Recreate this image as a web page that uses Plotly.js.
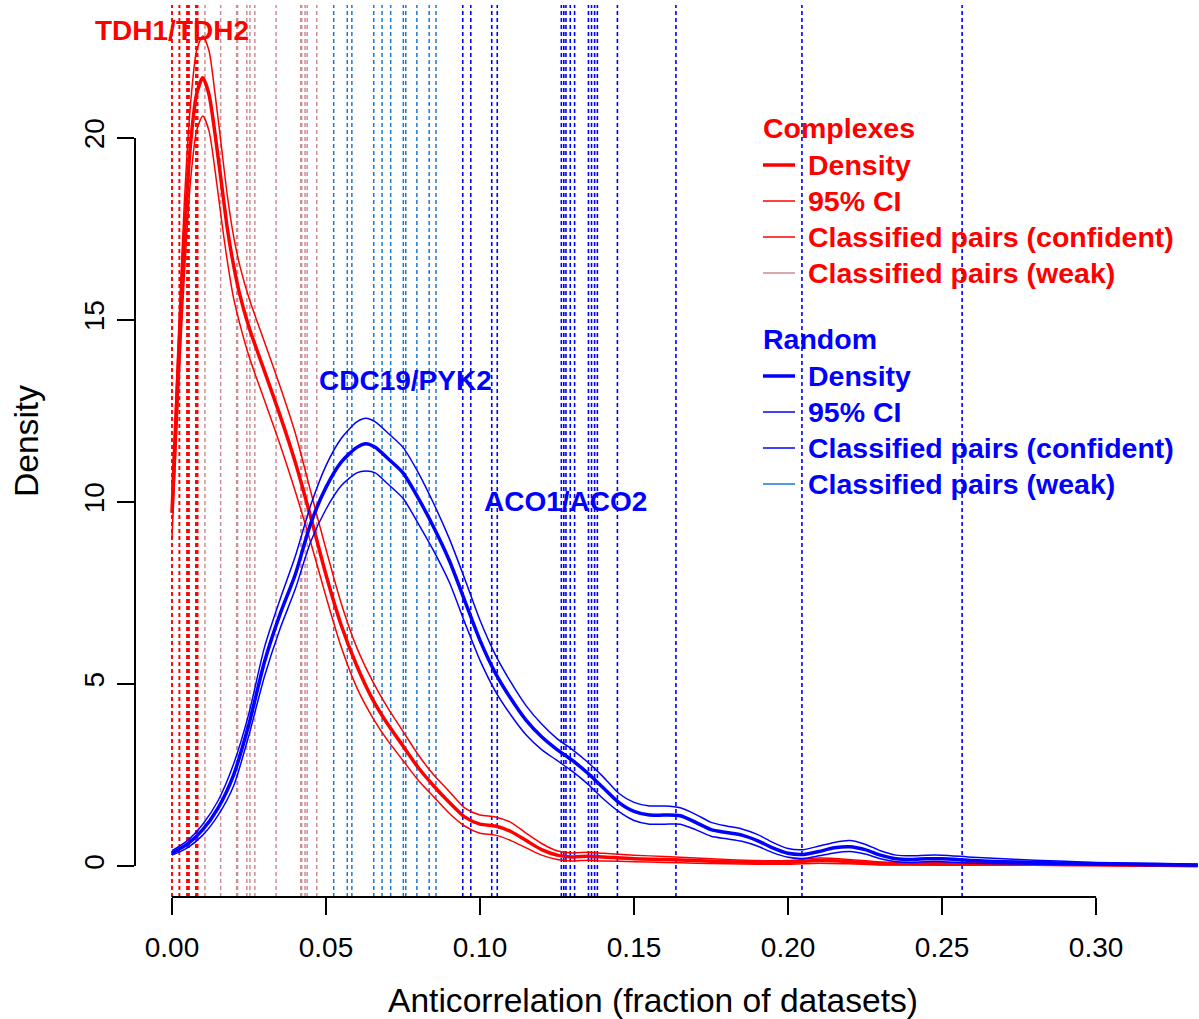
<!DOCTYPE html>
<html>
<head>
<meta charset="utf-8">
<script src="https://cdn.plot.ly/plotly-3.0.1.min.js"></script>
<style>html,body{margin:0;padding:0;background:#fff;}#chart{width:1199px;height:1019px;}</style>
</head>
<body>
<div id="chart"></div>
<script>
// ---------- data ----------
const xGrid = [0.000,0.002,0.004,0.006,0.008,0.010,0.012,0.014,0.016,0.018,0.020,0.022,0.025,0.030,0.035,0.040,0.045,0.050,0.055,0.060,0.065,0.070,0.075,0.080,0.085,0.090,0.095,0.100,0.105,0.110,0.115,0.120,0.125,0.130,0.135,0.140,0.150,0.160,0.170,0.180,0.190,0.200,0.210,0.220,0.230,0.240,0.260,0.280,0.300,0.320,0.333];
const complexDensity = [9.7,13.6,17.2,19.8,21.2,21.65,21.2,20.1,18.8,17.5,16.5,15.7,14.8,13.6,12.4,11.1,9.6,8.0,6.6,5.5,4.6,3.9,3.3,2.7,2.2,1.75,1.35,1.15,1.1,0.95,0.7,0.45,0.3,0.25,0.27,0.25,0.2,0.18,0.15,0.12,0.1,0.1,0.15,0.12,0.07,0.06,0.05,0.05,0.04,0.02,0.01];
const complexUpper   = [10.3,14.4,18.2,20.9,22.4,22.8,22.4,21.2,19.8,18.4,17.3,16.5,15.6,14.4,13.2,11.9,10.3,8.7,7.2,6.0,5.1,4.35,3.7,3.05,2.5,2.05,1.6,1.4,1.35,1.2,0.9,0.62,0.42,0.36,0.38,0.35,0.3,0.26,0.22,0.18,0.15,0.15,0.22,0.18,0.11,0.1,0.09,0.08,0.07,0.04,0.02];
const complexLower   = [9.0,12.8,16.2,18.8,20.2,20.6,20.2,19.1,17.8,16.6,15.6,14.9,14.0,12.8,11.6,10.3,8.9,7.4,6.0,4.9,4.1,3.45,2.9,2.35,1.9,1.45,1.1,0.9,0.85,0.7,0.5,0.3,0.18,0.14,0.16,0.14,0.12,0.1,0.08,0.06,0.05,0.05,0.08,0.06,0.03,0.03,0.02,0.02,0.01,0.0,0.0];

const xGridR = [0.000,0.005,0.010,0.015,0.020,0.025,0.030,0.035,0.040,0.045,0.050,0.055,0.060,0.063,0.066,0.070,0.075,0.080,0.085,0.090,0.095,0.100,0.105,0.110,0.115,0.120,0.125,0.130,0.135,0.140,0.145,0.150,0.155,0.160,0.165,0.170,0.175,0.180,0.185,0.190,0.195,0.200,0.205,0.210,0.215,0.220,0.225,0.230,0.235,0.240,0.245,0.250,0.260,0.270,0.280,0.290,0.300,0.320,0.333];
const randomDensity = [0.35,0.6,1.0,1.6,2.5,3.9,5.6,6.9,8.0,9.4,10.4,11.1,11.5,11.6,11.5,11.2,10.8,10.1,9.3,8.4,7.3,6.2,5.3,4.6,4.0,3.55,3.2,2.9,2.55,2.15,1.75,1.5,1.4,1.4,1.38,1.2,1.0,0.92,0.85,0.7,0.5,0.35,0.32,0.4,0.5,0.53,0.45,0.3,0.2,0.18,0.2,0.2,0.15,0.12,0.1,0.08,0.06,0.04,0.03];
const randomUpper   = [0.42,0.7,1.15,1.8,2.8,4.2,6.0,7.3,8.5,9.9,11.0,11.75,12.2,12.3,12.2,11.9,11.5,10.8,9.95,9.0,7.9,6.75,5.8,5.05,4.4,3.9,3.5,3.2,2.85,2.45,2.0,1.75,1.65,1.65,1.6,1.42,1.2,1.1,1.02,0.87,0.65,0.48,0.45,0.55,0.65,0.7,0.6,0.42,0.3,0.28,0.3,0.3,0.24,0.2,0.16,0.13,0.1,0.07,0.05];
const randomLower   = [0.3,0.5,0.85,1.4,2.2,3.6,5.2,6.5,7.6,8.9,9.8,10.45,10.8,10.85,10.8,10.5,10.1,9.4,8.65,7.8,6.7,5.65,4.8,4.15,3.6,3.2,2.9,2.6,2.25,1.85,1.5,1.25,1.15,1.15,1.15,1.0,0.82,0.75,0.68,0.55,0.37,0.24,0.21,0.28,0.36,0.4,0.33,0.2,0.12,0.1,0.12,0.12,0.08,0.06,0.05,0.04,0.03,0.01,0.01];

const complexConfident = [0.0000,0.0024,0.0049,0.0055,0.0078,0.0083];
const complexWeak = [0.0107,0.0158,0.0210,0.0213,0.0243,0.0253,0.0269,0.0338,0.0418,0.0421,0.0432,0.0439,0.0470];
const randomWeak = [0.0525,0.0569,0.0584,0.0655,0.0682,0.0710,0.0751,0.0759,0.0795,0.0835,0.0857];
const randomConfident = [0.0944,0.0970,0.1038,0.1056,0.1264,0.1272,0.1279,0.1293,0.1307,0.1352,0.1362,0.1372,0.1381,0.1446,0.1636,0.2045,0.2565];

const pairLabels = ["TDH1/TDH2","CDC19/PYK2","ACO1/ACO2"];
const pairX = [0.0,0.0757,0.1276];
const pairY = [22.96,13.35,10.0];
const pairColors = ["#FF0000","#0000FF","#0000FF"];

const xTicks = [0,0.05,0.10,0.15,0.20,0.25,0.30];
const yTicks = [0,5,10,15,20];
const xTitle = "Anticorrelation (fraction of datasets)";
const yTitle = "Density";

const legendComplex = ["Density","95% CI","Classified pairs (confident)","Classified pairs (weak)"];
const legendRandom = ["Density","95% CI","Classified pairs (confident)","Classified pairs (weak)"];

// ---------- styles ----------
const RED = "#FF0000", BLUE = "#0000FF", PINK = "#CD8C95", STEEL = "#1F78D0";
const FONT = "Liberation Sans, Arial, Helvetica, sans-serif";

function curve(x, y, color, w){
  return {x:x, y:y, type:"scatter", mode:"lines", line:{color:color, width:w, shape:"spline", smoothing:0.7}, hoverinfo:"skip", showlegend:false};
}
const traces = [
  curve(xGrid, complexUpper, RED, 1.5),
  curve(xGrid, complexLower, RED, 1.5),
  curve(xGrid, complexDensity, RED, 3.5),
  curve(xGridR, randomUpper, BLUE, 1.5),
  curve(xGridR, randomLower, BLUE, 1.5),
  curve(xGridR, randomDensity, BLUE, 3.5)
];

const shapes = [];
function vlines(vals, color, w){
  vals.forEach(v => shapes.push({type:"line", xref:"x", yref:"paper", x0:v, x1:v, y0:0, y1:1, layer:"below",
    line:{color:color, width:w, dash:"4px,3px"}}));
}
vlines(complexWeak, PINK, 1.5);
vlines(randomWeak, STEEL, 1.5);
vlines(complexConfident, RED, 1.9);
vlines(randomConfident, BLUE, 1.6);
// axis lines spanning first to last tick (R style)
shapes.push({type:"line", xref:"x", yref:"paper", x0:xTicks[0], x1:xTicks[xTicks.length-1], y0:0, y1:0, line:{color:"#000", width:2}});
shapes.push({type:"line", xref:"paper", yref:"y", x0:0, x1:0, y0:yTicks[0], y1:yTicks[yTicks.length-1], line:{color:"#000", width:2}});

// legend (manual)
const plotL = 135, plotW = 1064, plotB = 897, plotH = 892;
const px = p => (p - plotL) / plotW;
const py = p => (plotB - p) / plotH;
const annotations = [];
function legendBlock(title, items, color, yTop, colors, widths){
  annotations.push({xref:"paper", yref:"paper", x:px(761), y:py(yTop), xanchor:"left", yanchor:"middle", showarrow:false,
    text:"<b>"+title+"</b>", font:{family:FONT, size:28.5, color:color}});
  items.forEach((t,i) => {
    const yy = yTop + 37 + i*36;
    annotations.push({xref:"paper", yref:"paper", x:px(806), y:py(yy), xanchor:"left", yanchor:"middle", showarrow:false,
      text:"<b>"+t+"</b>", font:{family:FONT, size:28.5, color:color}});
    shapes.push({type:"line", xref:"paper", yref:"paper", x0:px(763), x1:px(795), y0:py(yy), y1:py(yy),
      line:{color:colors[i], width:widths[i]}});
  });
}
legendBlock("Complexes", legendComplex, RED, 128, [RED,RED,RED,PINK], [3.5,1.5,1.5,1.5]);
legendBlock("Random", legendRandom, BLUE, 339, [BLUE,BLUE,BLUE,STEEL], [3.5,1.5,1.5,1.5]);

pairLabels.forEach((t,i) => annotations.push({x:pairX[i], y:pairY[i], xref:"x", yref:"y", showarrow:false,
  xanchor:"center", yanchor:"middle", text:"<b>"+t+"</b>", font:{family:FONT, size:28, color:pairColors[i]}}));

// axis titles (positioned as in the reference)
annotations.push({xref:"paper", yref:"paper", x:px(653), y:py(1000), xanchor:"center", yanchor:"middle", showarrow:false,
  text:xTitle, font:{family:FONT, size:33.6, color:"#000"}});
annotations.push({xref:"paper", yref:"paper", x:px(27), y:py(441), xanchor:"center", yanchor:"middle", showarrow:false,
  textangle:-90, text:yTitle, font:{family:FONT, size:33.6, color:"#000"}});

const layout = {
  width:1199, height:1019,
  margin:{l:135, r:0, t:5, b:122, pad:0},
  paper_bgcolor:"#fff", plot_bgcolor:"#fff",
  showlegend:false,
  font:{family:FONT, color:"#000"},
  xaxis:{range:[-0.012,0.3334], tickvals:xTicks, ticktext:xTicks.map(v=>v.toFixed(2)), ticks:"outside", ticklen:17, tickwidth:2,
    tickcolor:"#000", showgrid:false, zeroline:false, showline:false, tickfont:{family:FONT, size:28}, ticklabelstandoff:8, automargin:false},
  yaxis:{range:[-0.85,23.65], tickvals:yTicks, ticktext:yTicks.map(String), ticks:"outside", ticklen:17, tickwidth:2, tickangle:-90,
    tickcolor:"#000", showgrid:false, zeroline:false, showline:false, tickfont:{family:FONT, size:28}, ticklabelstandoff:2, automargin:false},
  shapes:shapes,
  annotations:annotations
};
Plotly.newPlot("chart", traces, layout, {displayModeBar:false, staticPlot:true});
</script>
</body>
</html>
